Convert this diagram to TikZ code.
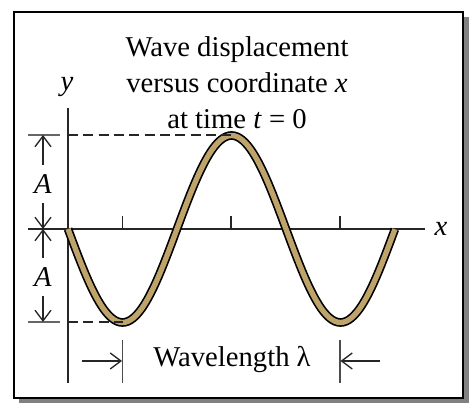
\documentclass[tikz,border=0pt]{standalone}
\usepackage{fontspec}
\setmainfont{Liberation Serif}
\usetikzlibrary{arrows.meta, positioning, calc}
\definecolor{wavetan}{RGB}{190,163,106}

\begin{document}
\begin{tikzpicture}[x=0.75pt, y=0.75pt]
\tikzset{
  lbl/.style={font=\fontsize{21.5}{27}\selectfont, inner sep=0pt},
  ax/.style={line width=1.1pt, draw=black!85},
  ext/.style={line width=0.9pt, draw=black!60},
  dsh/.style={line width=1pt, draw=black!85, dash pattern=on 7.5pt off 4pt},
  dim/.style={line width=1pt, draw=black!85, shorten <=7pt, -{Straight Barb[length=8pt,width=12pt]}},
  bar/.style={line width=1pt, draw=black!70}
}
\useasboundingbox (0,0) rectangle (469,403);
% ---- frame
\fill[black!50] (19,0) rectangle (469,386);
\draw[fill=white, line width=1.5pt] (14,5) rectangle (463,391);
% ---- title
\node[lbl, align=center, anchor=north] (ttl) at (237,367) {Wave displacement\\ versus coordinate \textit{x}\\ at time \textit{t} = 0};
% ---- points
\coordinate (xs) at (28,174);  \coordinate (xe) at (425,174);
\coordinate (yb) at (68,20);   \coordinate (yt) at (68,295);
\coordinate (pk) at (231,268); \coordinate (tr) at (122.5,81);
\coordinate (pkl) at (68,268); \coordinate (trl) at (68,81);
\coordinate (et1) at (28,268); \coordinate (et2) at (60,268);
\coordinate (eb1) at (28,81);  \coordinate (eb2) at (60,81);
\coordinate (dt) at (43,268);  \coordinate (dm) at (43,174); \coordinate (db) at (43,81);
% ---- axes
\draw[ax] (xs) -- (xe);
\draw[ax] (yb) -- (yt);
\node[lbl] (xl) at (441,174) {\textit{x}};
\node[lbl] (yl) at (67,316) {\textit{y}};
\foreach \tx in {122.5,231,340}
  \draw[ax] (\tx,174) -- (\tx,187);
% ---- wave
\draw[line width=6.5pt, black] plot[domain=0:1.5, samples=121, smooth, variable=\t] ({68+218*\t},{174-93.5*sin(360*\t)});
\draw[line width=4pt, wavetan] plot[domain=0:1.5, samples=121, smooth, variable=\t] ({68+218*\t},{174-93.5*sin(360*\t)});
% ---- amplitude
\draw[ext] (et1) -- (et2);
\draw[ext] (eb1) -- (eb2);
\draw[dsh] (pkl) -- (pk);
\draw[dsh] (trl) -- (tr);
\node[lbl] (a1) at (43,219) {\textit{A}};
\node[lbl] (a2) at (43,126) {\textit{A}};
\draw[dim] (a1) -- (dt);
\draw[dim] (a1) -- (dm);
\draw[dim] (a2) -- (dm);
\draw[dim] (a2) -- (db);
% ---- wavelength
\coordinate (w1b) at (122.5,20); \coordinate (w1t) at (122.5,63);
\coordinate (w2b) at (340,20);   \coordinate (w2t) at (340,63);
\coordinate (wa) at (82,42);     \coordinate (wb) at (122,42);
\coordinate (wc) at (380,42);    \coordinate (wd) at (340.5,42);
\draw[bar] (w1b) -- (w1t);
\draw[bar] (w2b) -- (w2t);
\draw[dim, shorten <=0pt] (wa) -- (wb);
\draw[dim, shorten <=0pt] (wc) -- (wd);
\node[lbl] (wl) at (232,43) {Wavelength λ};
\end{tikzpicture}
\end{document}
